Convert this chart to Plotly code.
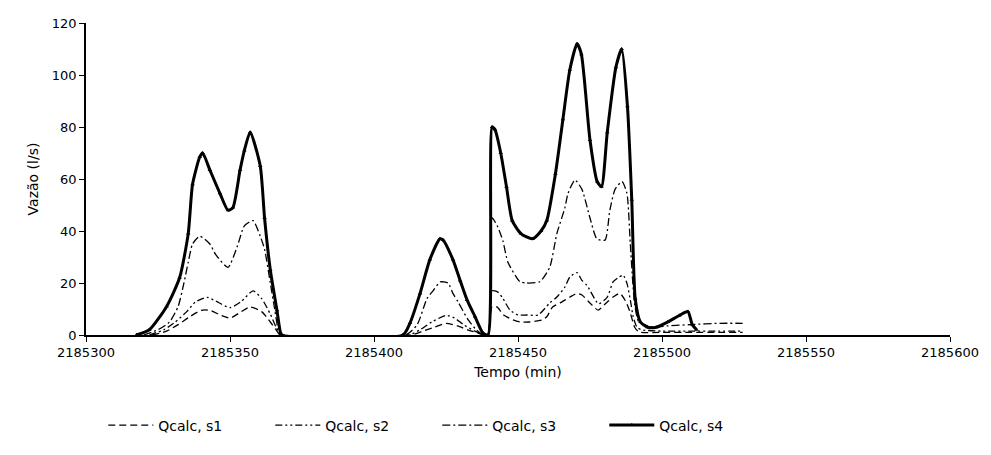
import plotly.graph_objects as go

# ---------------- data ----------------
t_s1 = [2185323, 2185328, 2185332, 2185336, 2185340, 2185343, 2185347, 2185350, 2185354, 2185357, 2185361, 2185364, 2185366, 2185367.5,
        2185413, 2185417, 2185421, 2185425, 2185429, 2185433, 2185436, 2185438,
        2185439.6, 2185441, 2185442.7, 2185445, 2185448.3, 2185450.7, 2185454, 2185458.3, 2185460, 2185462, 2185464.6, 2185468, 2185470.5,
        2185472.2, 2185475.7, 2185477.8, 2185481, 2185483, 2185485.4, 2185487.5, 2185489, 2185490.5, 2185492, 2185500, 2185510, 2185520, 2185528]
q_s1 = [0, 1.5, 4, 7, 9.5, 9.5, 7.5, 6.5, 9, 10.8, 9, 5, 2, 0,
        0, 1.5, 3, 4.5, 3.5, 1.8, 0.8, 0,
        0, 11, 10.8, 7.7, 5.8, 5, 5, 5.8, 7, 10.8, 12.3, 14.6, 16,
        15.4, 11.5, 9.6, 12.7, 14.6, 16, 12.7, 8.5, 3, 1.2, 1, 1, 1, 1]

t_s2 = [2185322, 2185327, 2185331, 2185335, 2185338, 2185342, 2185346, 2185350, 2185354, 2185358, 2185361, 2185364, 2185366, 2185367.5,
        2185412, 2185416, 2185420, 2185425, 2185428, 2185431, 2185435, 2185438,
        2185439.6, 2185441, 2185443, 2185444.8, 2185447.2, 2185450, 2185453, 2185457, 2185461, 2185463.5, 2185466.3, 2185468, 2185470.5,
        2185472.2, 2185474, 2185478, 2185481, 2185483, 2185484.7, 2185486.5, 2185487.8, 2185489, 2185490, 2185491.3, 2185493, 2185500, 2185510, 2185520, 2185528]
q_s2 = [0, 2, 5, 9, 12.7, 14.5, 12.5, 10.5, 13, 17, 14, 8, 3, 0,
        0, 2, 5, 7.5, 6.5, 4, 1.5, 0,
        0, 17, 16.5, 14, 9.6, 7.7, 7.7, 7.7, 12.3, 14.6, 18.5, 22.3, 24,
        21, 19, 12, 14.6, 20.4, 22, 23, 20, 13.5, 7, 3, 2, 1.5, 1.5, 1.5, 1.5]

t_s3 = [2185320, 2185325, 2185329, 2185332, 2185334, 2185335.5, 2185337, 2185339.5, 2185343, 2185345, 2185349.3, 2185352.5, 2185355, 2185358,
        2185360.5, 2185362, 2185364, 2185365.5, 2185367, 2185368,
        2185411, 2185415, 2185418.4, 2185420.5, 2185423, 2185425.7, 2185427.4, 2185429.2, 2185432.6, 2185435.5, 2185438,
        2185439.6, 2185441, 2185443, 2185444.8, 2185446.5, 2185450.7, 2185453, 2185457.6, 2185461, 2185463.5, 2185466.3, 2185467.4, 2185469.8,
        2185472.2, 2185475, 2185477.4, 2185480.2, 2185481.9, 2185483.7, 2185486.1, 2185487.8, 2185489, 2185490.5, 2185492, 2185497,
        2185502, 2185510, 2185520, 2185528]
q_s3 = [0, 2, 5, 11, 20, 28, 35, 38, 35, 31, 26, 34, 42, 44,
        38, 33, 20, 10, 1, 0,
        0, 4, 14, 17, 20.4, 20, 16, 12.7, 6, 2, 0,
        0, 45, 41.5, 36, 28, 20.5, 20, 20.5, 26, 39, 49, 54.6, 59.6,
        56, 45, 37, 36.5, 48, 56, 59, 54.6, 35, 12, 5, 3,
        3.5, 4, 4.5, 4.5]

t_s4 = [2185317.5, 2185322, 2185328, 2185332.5, 2185335.5, 2185337, 2185339.5, 2185340.5, 2185343, 2185346.5, 2185349.3, 2185351, 2185353.5,
        2185355, 2185357, 2185360.5, 2185362, 2185364, 2185366.3, 2185367.5, 2185368,
        2185410, 2185412.5, 2185416, 2185419.4, 2185422.9, 2185424, 2185427.4, 2185429.9, 2185432.3, 2185435.1, 2185437.8, 2185439.6,
        2185441, 2185442, 2185444, 2185446, 2185448, 2185451, 2185455, 2185458, 2185460, 2185463, 2185465.6, 2185468, 2185470.5, 2185472,
        2185475, 2185477.5, 2185479, 2185481, 2185484, 2185486, 2185488, 2185489.5, 2185490.7, 2185492.5, 2185495, 2185498, 2185502,
        2185506, 2185509, 2185510.5, 2185512]
q_s4 = [0, 2, 11, 22, 39, 58, 68.5, 70, 63.5, 54.5, 48, 49, 63.5,
        71, 78, 65, 45, 25, 9.5, 1, 0,
        0, 4.6, 16, 29, 37, 36.5, 29, 21, 13.5, 7, 0.8, 0,
        80, 79, 70, 57, 44, 39, 37, 40, 44, 62, 83, 102, 112, 108,
        75, 59, 57, 78, 103, 110, 88, 52, 14, 5, 3, 3, 5,
        7.5, 9, 4, 2]

series_names = ["Qcalc, s1", "Qcalc, s2", "Qcalc, s3", "Qcalc, s4"]
x_tick_vals = [2185300, 2185350, 2185400, 2185450, 2185500, 2185550, 2185600]
x_tick_text = ["2185300", "2185350", "2185400", "2185450", "2185500", "2185550", "2185600"]
y_tick_vals = [0, 20, 40, 60, 80, 100, 120]

# ---------------- figure ----------------
FONT = "DejaVu Sans"
SMOOTH = 0.6
fig = go.Figure()
fig.add_trace(go.Scatter(x=t_s1, y=q_s1, mode="lines", name=series_names[0],
                         line=dict(color="black", width=1.3, dash="7px,4px", shape="spline", smoothing=SMOOTH)))
fig.add_trace(go.Scatter(x=t_s2, y=q_s2, mode="lines", name=series_names[1],
                         line=dict(color="black", width=1.3, dash="7px,3px,2px,3px,2px,3px", shape="spline", smoothing=SMOOTH)))
fig.add_trace(go.Scatter(x=t_s3, y=q_s3, mode="lines", name=series_names[2],
                         line=dict(color="black", width=1.3, dash="8px,3px,2px,3px", shape="spline", smoothing=SMOOTH)))
fig.add_trace(go.Scatter(x=t_s4, y=q_s4, mode="lines+markers", name=series_names[3],
                         line=dict(color="black", width=3, shape="spline", smoothing=SMOOTH),
                         marker=dict(symbol="triangle-up", size=4, color="black")))

fig.update_layout(
    width=991, height=455,
    margin=dict(l=86, r=41, t=23, b=120),
    paper_bgcolor="white", plot_bgcolor="white",
    font=dict(family=FONT, color="black", size=12),
    showlegend=True,
    legend=dict(orientation="h", x=0.02, xanchor="left", y=-0.29, yanchor="middle",
                font=dict(size=14, family=FONT), itemwidth=45, entrywidth=107, tracegroupgap=0,
                bgcolor="rgba(0,0,0,0)"),
    xaxis=dict(range=[2185300, 2185600], tickvals=x_tick_vals, ticktext=x_tick_text,
               showgrid=False, zeroline=False, showline=True, linecolor="black", linewidth=1.5,
               ticks="outside", ticklen=5, tickcolor="black", tickfont=dict(size=13),
               title=dict(text="Tempo (min)", font=dict(size=14), standoff=8)),
    yaxis=dict(range=[0, 120], tickvals=y_tick_vals, showgrid=False, zeroline=False,
               showline=True, linecolor="black", linewidth=1.5,
               ticks="outside", ticklen=5, tickcolor="black", tickfont=dict(size=13),
               title=dict(text="Vazão (l/s)", font=dict(size=14), standoff=10)),
)

fig.write_html("out.html")
